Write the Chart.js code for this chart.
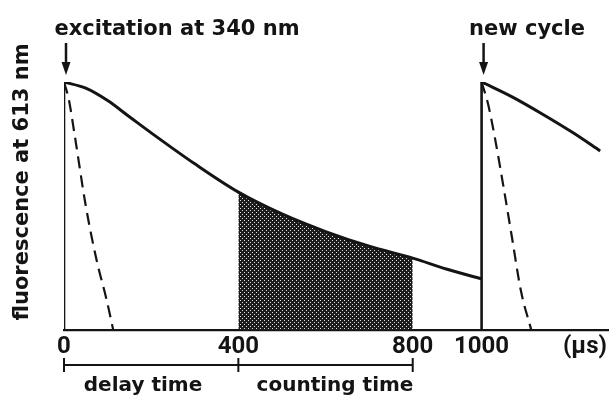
<!DOCTYPE html>
<html>
<head>
<meta charset="utf-8">
<script src="https://cdn.jsdelivr.net/npm/chart.js@4"></script>
<style>
  body { margin: 0; background: #fff; }
</style>
</head>
<body>
<canvas id="decayChart" width="614" height="397"></canvas>
<script>
// time in microseconds, signal relative to the peak after the flash
const longTime1 = [0, 50, 100, 150, 200, 300, 400, 500, 600, 700, 800, 900, 1000];
const longSignal1 = [1.0, 0.975, 0.925, 0.86, 0.795, 0.67, 0.556, 0.468, 0.397, 0.338, 0.290, 0.245, 0.206];
const longTime2 = [1000, 1070, 1140, 1210, 1272];
const longSignal2 = [1.0, 0.94, 0.87, 0.795, 0.722];
const shortTime1 = [0, 11, 25, 50, 75, 98, 113];
const shortSignal1 = [1.0, 0.93, 0.78, 0.50, 0.28, 0.12, 0];
const shortTime2 = [1000, 1015, 1030, 1050, 1070, 1090, 1114];
const shortSignal2 = [1.0, 0.91, 0.78, 0.58, 0.37, 0.16, 0];
const flashTimes = [0, 1000];
const countWindow = [400, 800];
const tickValues = [0, 400, 800, 1000, 1237];
const tickLabels = ['0', '400', '800', '1000', '(\u00b5s)'];
const topNotes = ['excitation at 340 nm', 'new cycle'];
const yTitle = 'fluorescence at 613 nm';
const spanMarks = [0, 400, 800];
const spanLabels = ['delay time', 'counting time'];

const ink = '#141414';

// the drawing squeezes the stretch between 800 and 1000 us
const squeeze = { from: 800, to: 1000, factor: 0.79 };
function squash(v) {
    if (v <= squeeze.from) return v;
    if (v <= squeeze.to) return squeeze.from + (v - squeeze.from) * squeeze.factor;
    return squeeze.from + (squeeze.to - squeeze.from) * squeeze.factor + (v - squeeze.to);
}
function unsquash(s) {
    const a = squeeze.from, b = squash(squeeze.to);
    if (s <= a) return s;
    if (s <= b) return a + (s - a) / squeeze.factor;
    return squeeze.to + (s - b);
}

class SchematicScale extends Chart.LinearScale {
    getPixelForValue(value) {
        const lo = squash(this.min), hi = squash(this.max);
        return this.getPixelForDecimal((squash(value) - lo) / (hi - lo));
    }
    getValueForPixel(pixel) {
        const lo = squash(this.min), hi = squash(this.max);
        return unsquash(lo + this.getDecimalForPixel(pixel) * (hi - lo));
    }
}
SchematicScale.id = 'schematic';
SchematicScale.defaults = Chart.LinearScale.defaults;
Chart.register(SchematicScale);

function points(xs, ys) {
    return xs.map((x, i) => ({ x: x, y: ys[i] }));
}

// stippled fill for the counting window
function stipple() {
    const c = document.createElement('canvas');
    c.width = 4; c.height = 4;
    const g = c.getContext('2d');
    g.fillStyle = '#1c1c1c';
    g.fillRect(0, 0, 4, 4);
    g.fillStyle = '#e4e4e4';
    g.fillRect(0, 0, 1, 1);
    g.fillRect(2, 2, 1, 1);
    return g.createPattern(c, 'repeat');
}

let flashPoints = [];
flashTimes.forEach((t, i) => {
    if (i > 0) flashPoints.push({ x: (t + flashTimes[i - 1]) / 2, y: null });
    flashPoints.push({ x: t, y: 0 }, { x: t, y: 1 });
});

const windowPoints = points(longTime1, longSignal1)
    .filter(p => p.x >= countWindow[0] && p.x <= countWindow[1]);

const annotations = {
    id: 'annotations',
    afterDraw(chart) {
        const ctx = chart.ctx;
        const x = chart.scales.x;
        ctx.save();
        ctx.fillStyle = ink;
        ctx.strokeStyle = ink;
        ctx.textAlign = 'center';

        // top notes with arrows
        ctx.font = 'bold 21px "DejaVu Sans"';
        ctx.textBaseline = 'alphabetic';
        ctx.fillText(topNotes[0], 177, 35);
        ctx.fillText(topNotes[1], 527, 35);
        flashTimes.forEach(t => {
            const px = x.getPixelForValue(t) + 2;
            ctx.lineWidth = 2.5;
            ctx.beginPath();
            ctx.moveTo(px, 43);
            ctx.lineTo(px, 64);
            ctx.stroke();
            ctx.beginPath();
            ctx.moveTo(px - 4.5, 62);
            ctx.lineTo(px + 4.5, 62);
            ctx.lineTo(px, 75);
            ctx.closePath();
            ctx.fill();
        });

        // y title
        ctx.save();
        ctx.translate(23, 182);
        ctx.rotate(-Math.PI / 2);
        ctx.textBaseline = 'middle';
        ctx.fillText(yTitle, 0, 0);
        ctx.restore();

        // delay / counting bracket
        const by = 365;
        ctx.lineWidth = 2;
        ctx.beginPath();
        ctx.moveTo(x.getPixelForValue(spanMarks[0]), by);
        ctx.lineTo(x.getPixelForValue(spanMarks[spanMarks.length - 1]), by);
        spanMarks.forEach(t => {
            const px = x.getPixelForValue(t);
            ctx.moveTo(px, by - 7);
            ctx.lineTo(px, by + 7);
        });
        ctx.stroke();
        ctx.font = 'bold 20px "DejaVu Sans"';
        ctx.textBaseline = 'alphabetic';
        ctx.fillText(spanLabels[0], 143, 391);
        ctx.fillText(spanLabels[1], 335, 391);
        ctx.restore();
    }
};

const ctx = document.getElementById('decayChart');
const chart = new Chart(ctx, {
    type: 'line',
    data: {
        datasets: [
            {
                label: 'long-lived decay',
                data: points(longTime1, longSignal1),
                borderColor: ink,
                borderWidth: 3,
                cubicInterpolationMode: 'monotone',
                pointRadius: 0,
                fill: false
            },
            {
                label: 'long-lived decay, next cycle',
                data: points(longTime2, longSignal2),
                borderColor: ink,
                borderWidth: 3,
                cubicInterpolationMode: 'monotone',
                pointRadius: 0,
                fill: false
            },
            {
                label: 'short-lived background',
                data: points(shortTime1, shortSignal1),
                borderColor: ink,
                borderWidth: 2.2,
                borderDash: [12, 7],
                cubicInterpolationMode: 'monotone',
                pointRadius: 0,
                fill: false
            },
            {
                label: 'short-lived background, next cycle',
                data: points(shortTime2, shortSignal2),
                borderColor: ink,
                borderWidth: 2.2,
                borderDash: [12, 7],
                cubicInterpolationMode: 'monotone',
                pointRadius: 0,
                fill: false
            },
            {
                label: 'excitation',
                data: flashPoints,
                borderColor: ink,
                borderWidth: 2.6,
                tension: 0,
                spanGaps: false,
                pointRadius: 0,
                fill: false
            },
            {
                label: 'counting window',
                data: windowPoints,
                borderWidth: 0,
                backgroundColor: stipple(),
                cubicInterpolationMode: 'monotone',
                pointRadius: 0,
                fill: 'origin',
                order: 1
            }
        ]
    },
    options: {
        responsive: false,
        animation: false,
        layout: { padding: { left: 64, right: 6, top: 82, bottom: 0 } },
        plugins: {
            legend: { display: false },
            tooltip: { enabled: false }
        },
        scales: {
            x: {
                type: 'schematic',
                min: 0,
                max: 1290,
                grid: { display: false },
                border: { display: true, color: ink, width: 2.2 },
                afterBuildTicks: s => { s.ticks = tickValues.map(v => ({ value: v })); },
                afterFit: s => { s.height = 67; },
                ticks: {
                    autoSkip: false,
                    maxRotation: 0,
                    padding: -5,
                    color: ink,
                    font: { family: 'Roboto', size: 24, weight: 'bold' },
                    callback: v => tickLabels[tickValues.indexOf(v)]
                }
            },
            y: {
                display: false,
                min: 0,
                max: 1
            }
        }
    },
    plugins: [annotations]
});
</script>
</body>
</html>
